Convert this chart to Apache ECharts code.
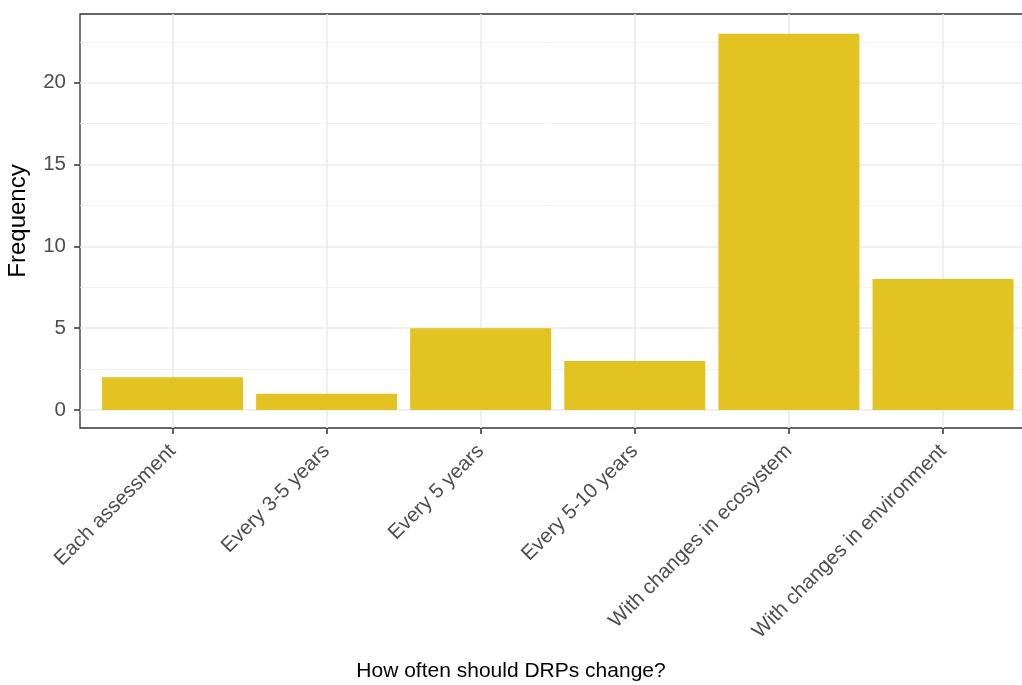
<!DOCTYPE html>
<html>
<head>
<meta charset="utf-8">
<script src="https://cdn.jsdelivr.net/npm/echarts@6/dist/echarts.min.js"></script>
<style>
html,body{margin:0;padding:0;background:#fff;overflow:hidden;}
#chart{width:1022px;height:685px;}
</style>
</head>
<body>
<div id="chart"></div>
<script>
const categories = ["Each assessment", "Every 3-5 years", "Every 5 years", "Every 5-10 years", "With changes in ecosystem", "With changes in environment"];
const frequency = [2, 1, 5, 3, 23, 8];
const yTicks = [0, 5, 10, 15, 20];
const yMinorTicks = [2.5, 7.5, 12.5, 17.5, 22.5];
const xTicks = categories.map((c, i) => i);

const chart = echarts.init(document.getElementById('chart'), null, {renderer: 'canvas'});
const font = 'Liberation Sans, Arial, Helvetica, sans-serif';
chart.setOption({
  animation: false,
  backgroundColor: '#ffffff',
  title: {
    text: 'How often should DRPs change?',
    left: 'center',
    bottom: -2,
    textStyle: {fontFamily: font, fontSize: 21, fontWeight: 'normal', color: '#000'}
  },
  grid: {
    left: 80, top: 14, width: 955.5, bottom: 257,
    containLabel: false, outerBoundsMode: 'none',
    show: true, borderColor: '#333333', borderWidth: 1.3, backgroundColor: 'transparent'
  },
  xAxis: {
    type: 'value', min: -0.6, max: 5.6,
    axisLine: {show: false, onZero: false},
    axisTick: {show: true, customValues: xTicks, length: 6, lineStyle: {color: '#333333', width: 1.5}},
    axisLabel: {
      customValues: xTicks, rotate: 45, margin: 20,
      formatter: v => categories[Math.round(v)],
      color: '#4d4d4d', fontFamily: font, fontSize: 20.5
    },
    splitLine: {show: true, lineStyle: {color: '#ebebeb', width: 1.6}}
  },
  yAxis: [{
    type: 'value', min: -1.1, max: 24.2,
    name: 'Frequency', nameLocation: 'middle', nameGap: 50,
    nameTextStyle: {fontFamily: font, fontSize: 24, color: '#000'},
    axisLine: {show: false, onZero: false},
    axisTick: {show: true, customValues: yTicks, length: 6, lineStyle: {color: '#333333', width: 1.5}},
    axisLabel: {customValues: yTicks, color: '#4d4d4d', fontFamily: font, fontSize: 20.5, margin: 14},
    splitLine: {show: true, lineStyle: {color: '#ebebeb', width: 1.6}}
  }, {
    type: 'value', min: -1.1, max: 24.2, position: 'left',
    axisLine: {show: false, onZero: false},
    axisTick: {show: false, customValues: yMinorTicks},
    axisLabel: {show: false, customValues: yMinorTicks},
    splitLine: {show: true, lineStyle: {color: '#f1f1f1', width: 0.9}}
  }],
  series: [{
    type: 'bar',
    yAxisIndex: 0,
    barWidth: 141,
    itemStyle: {color: '#e3c322'},
    data: categories.map((c, i) => [i, frequency[i]]),
    z: 3
  }]
});
</script>
</body>
</html>
